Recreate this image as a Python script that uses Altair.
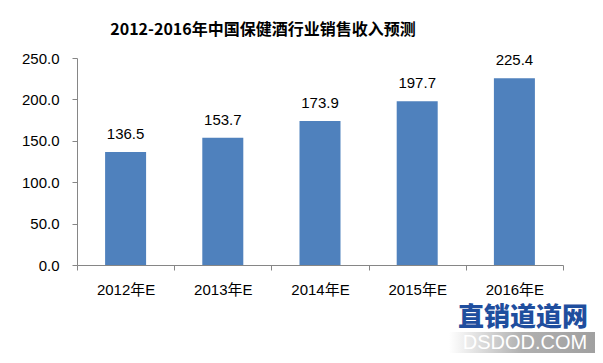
import altair as alt
import pandas as pd

years = ["2012年E", "2013年E", "2014年E", "2015年E", "2016年E"]
revenue = [136.5, 153.7, 173.9, 197.7, 225.4]
y_ticks = [0, 50, 100, 150, 200, 250]
watermark_cn = ["直销道道网"]
watermark_en = ["DSDOD.COM"]

df = pd.DataFrame({"year": years, "revenue": revenue})

FONT = "Liberation Sans, Noto Sans CJK SC"

base = alt.Chart(df).encode(
    x=alt.X(
        "year:N",
        sort=years,
        scale=alt.Scale(paddingInner=0, paddingOuter=0),
        axis=alt.Axis(
            title=None,
            labelAngle=0,
            labelFont=FONT,
            labelFontSize=15,
            labelColor="#000000",
            labelPadding=12,
            domainColor="#868686",
            tickColor="#868686",
            tickSize=5,
            tickBand="extent",
            grid=False,
        ),
    ),
    y=alt.Y(
        "revenue:Q",
        scale=alt.Scale(domain=[0, 250], nice=False),
        axis=alt.Axis(
            title=None,
            values=y_ticks,
            format=".1f",
            labelFont=FONT,
            labelFontSize=15,
            labelColor="#000000",
            labelPadding=13,
            domainColor="#868686",
            tickColor="#868686",
            tickSize=5,
            grid=False,
        ),
    ),
)

bars = base.mark_bar(size=41, color="#4F81BD")
labels = base.mark_text(
    dy=-10, baseline="bottom", font=FONT, fontSize=15, color="#000000"
).encode(text=alt.Text("revenue:Q", format=".1f"))

wm_bg = alt.Chart(pd.DataFrame({"t": watermark_en})).mark_rect(
    color=alt.LinearGradient(
        gradient="linear",
        stops=[
            alt.GradientStop(color="#ffffff", offset=0),
            alt.GradientStop(color="#b0b0b0", offset=0.5),
            alt.GradientStop(color="#a0a0a0", offset=1),
        ],
        x1=0, x2=1, y1=0, y2=0,
    )
).encode(x=alt.value(372), x2=alt.value(518), y=alt.value(274), y2=alt.value(295))

wm_cn = alt.Chart(pd.DataFrame({"t": watermark_cn})).mark_text(
    font="Noto Sans CJK SC", fontSize=26, fontWeight=900, color="#1F4E9E",
).encode(text="t:N", x=alt.value(446), y=alt.value(260))

wm_en = alt.Chart(pd.DataFrame({"t": watermark_en})).mark_text(
    font="Liberation Sans", fontSize=20, color="#ffffff",
).encode(text="t:N", x=alt.value(448), y=alt.value(285))

chart = (
    alt.layer(bars, labels, wm_bg, wm_cn, wm_en)
    .properties(
        width=486,
        height=207,
        autosize=alt.AutoSizeParams(type="none"),
        padding={"left": 69, "top": 50, "right": 32, "bottom": 90},
        title=alt.TitleParams(
            "2012-2016年中国保健酒行业销售收入预测",
            font="Noto Sans CJK SC",
            fontSize=16,
            fontWeight="bold",
            color="#000000",
            offset=13,
            dx=-57,
            anchor="middle",
        ),
    )
    .configure_view(stroke=None)
)

chart.save("out.html", embed_options={"renderer": "svg", "actions": False})
